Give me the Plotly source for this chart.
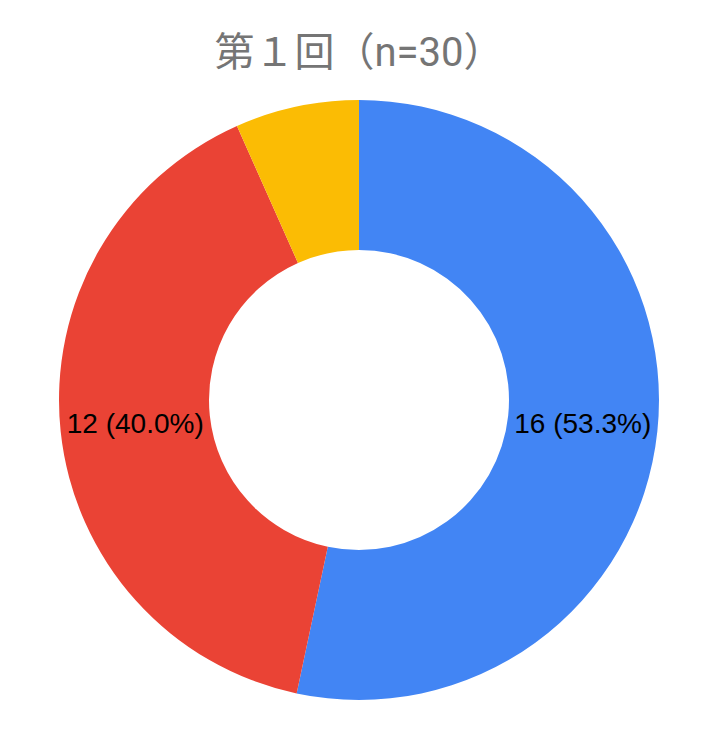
import plotly.graph_objects as go

# Data
labels = ["A", "B", "C"]
values = [16, 12, 2]
colors = ["#4285F4", "#EA4335", "#FBBC04"]
text_templates = ["%{value} (%{percent:.1%})", "%{value} (%{percent:.1%})", ""]

fig = go.Figure(go.Pie(
    labels=labels,
    values=values,
    hole=0.5,
    sort=False,
    direction="clockwise",
    rotation=0,
    marker=dict(colors=colors, line=dict(width=0)),
    texttemplate=text_templates,
    textposition="inside",
    insidetextorientation="horizontal",
    textfont=dict(family="Liberation Sans, Arial", size=28, color="black"),
    hoverinfo="label+value+percent",
))

# page body has an 8px margin, so shift everything up/left by 8px
fig.update_layout(
    title=dict(
        text="第１回（n=30）",
        x=351 / 718, xanchor="center",
        y=1 - 44 / 742, yref="container", yanchor="middle",
        font=dict(family="Roboto, Noto Sans CJK JP", size=40, color="#757575"),
    ),
    showlegend=False,
    uniformtext=dict(minsize=28, mode="show"),
    width=718, height=742,
    margin=dict(l=51, r=67, t=92, b=50),
    paper_bgcolor="white",
)

fig.write_html("out.html")
